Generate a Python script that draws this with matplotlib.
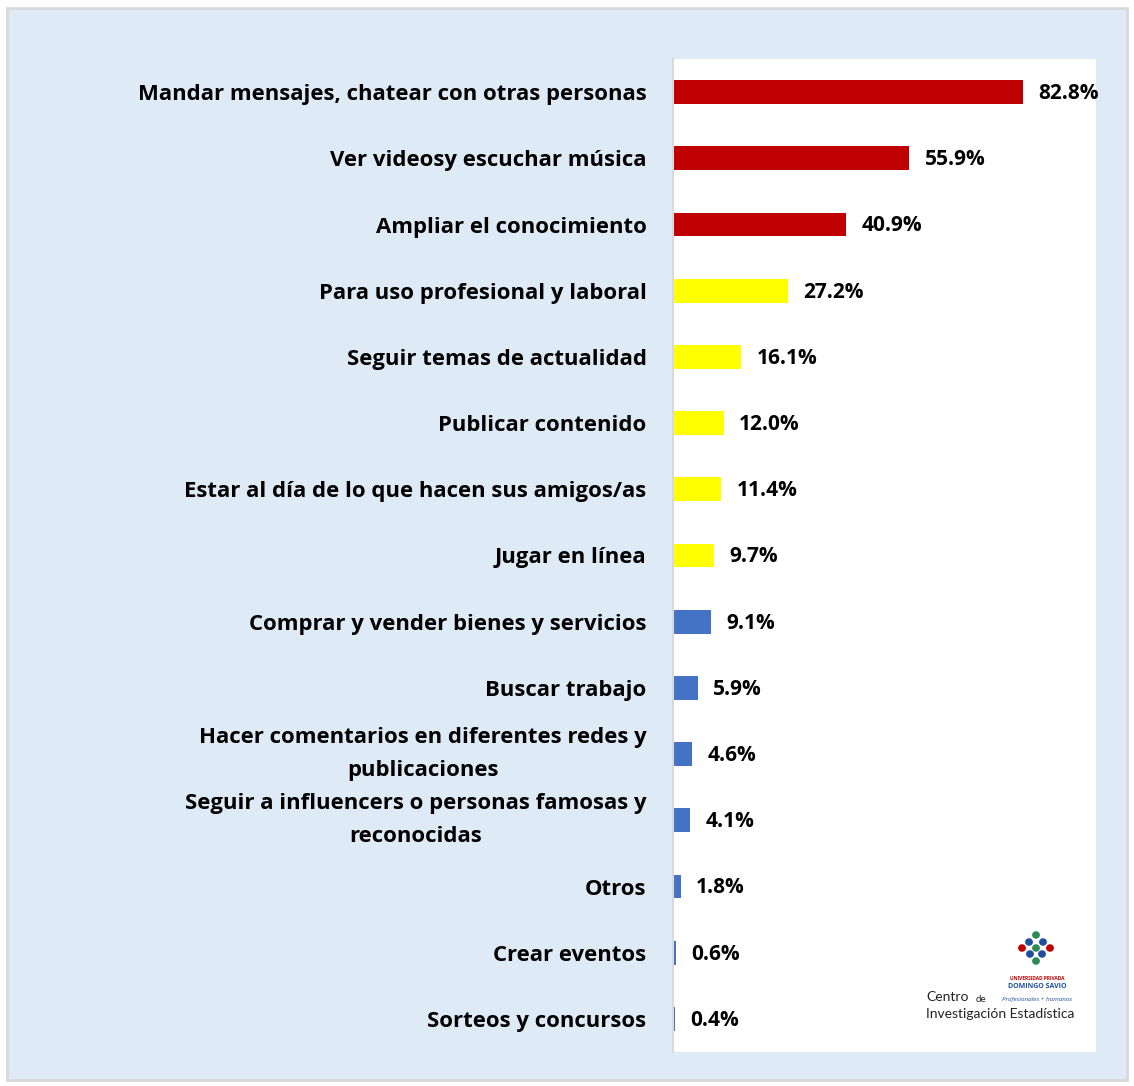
import matplotlib
matplotlib.use("Agg")
import matplotlib.pyplot as plt
from matplotlib.patches import Rectangle

categories = [
    "Mandar mensajes, chatear con otras personas",
    "Ver videosy escuchar música",
    "Ampliar el conocimiento",
    "Para uso profesional y laboral",
    "Seguir temas de actualidad",
    "Publicar contenido",
    "Estar al día de lo que hacen sus amigos/as",
    "Jugar en línea",
    "Comprar y vender bienes y servicios",
    "Buscar trabajo",
    "Hacer comentarios en diferentes redes y\npublicaciones",
    "Seguir a influencers o personas famosas y\nreconocidas",
    "Otros",
    "Crear eventos",
    "Sorteos y concursos",
]
values = [82.8, 55.9, 40.9, 27.2, 16.1, 12.0, 11.4, 9.7, 9.1, 5.9, 4.6, 4.1, 1.8, 0.6, 0.4]
groups = ["red"] * 3 + ["yellow"] * 5 + ["blue"] * 7
group_colors = {"red": "#C00000", "yellow": "#FFFF00", "blue": "#4472C4"}

plt.rcParams['font.family'] = ['Open Sans', 'DejaVu Sans']

W, H = 1134, 1086
fig = plt.figure(figsize=(W / 100, H / 100), dpi=100)
fig.patch.set_facecolor("white")
fig.add_artist(Rectangle((7 / W, 1 - 1080 / H), (1127 - 7) / W, (1080 - 8) / H,
                         transform=fig.transFigure, facecolor="#DEEAF6",
                         edgecolor="#D9D9D9", linewidth=2, zorder=0))

left, right, top, bottom = 673, 1096, 59, 1052
ax = fig.add_axes([left / W, 1 - bottom / H, (right - left) / W, (bottom - top) / H])
ax.set_facecolor("white")

y = list(range(len(categories)))
colors = [group_colors[g] for g in groups]
ax.barh(y, values, height=0.36, color=colors, zorder=2)
ax.set_xlim(0, 100)
ax.set_ylim(len(categories) - 0.5, -0.5)
ax.set_yticks(y)
ax.set_yticklabels(categories, fontsize=15.9, fontweight="bold", color="#000000",
                   linespacing=1.75)
for t in ax.get_yticklabels():
    t.set_multialignment("center")
    if "\n" in t.get_text():
        t.set_verticalalignment("center")
ax.tick_params(axis="y", length=0, pad=19)
ax.set_xticks([])
for s in ["top", "right", "bottom"]:
    ax.spines[s].set_visible(False)
ax.spines["left"].set_color("#D9D9D9")
ax.spines["left"].set_linewidth(1.5)

for yi, v in zip(y, values):
    ax.annotate(f"{v:.1f}%", (v, yi), xytext=(11, -1), textcoords="offset points",
                va="center", ha="left", fontsize=15, fontweight="bold",
                color="#000000", annotation_clip=False)

# logo (approximation)
logo_font = ['Lato', 'DejaVu Sans']
fig.text(926 / W, 1 - 997 / H, "Centro", fontsize=10, color="#222222", va="center",
         ha="left", family=logo_font)
fig.text(976 / W, 1 - 999 / H, "de", fontsize=7, color="#222222", va="center",
         ha="left", family=logo_font)
fig.text(926 / W, 1 - 1014 / H, "Investigación Estadística", fontsize=10, color="#222222",
         va="center", ha="left", family=logo_font)
fig.text(1037 / W, 1 - 979 / H, "UNIVERSIDAD PRIVADA", fontsize=3.5, color="#C00000",
         fontweight="bold", va="center", ha="center")
fig.text(1037 / W, 1 - 986 / H, "DOMINGO SAVIO", fontsize=5, color="#1F4E9C",
         fontweight="bold", va="center", ha="center")
fig.text(1037 / W, 1 - 999 / H, "Profesionales + humanos", fontsize=4.5, color="#1F4E9C",
         style="italic", va="center", ha="center")
dots_x = [1036, 1029, 1043, 1036, 1030, 1042, 1036, 1022, 1050]
dots_y = [935, 942, 942, 948, 954, 954, 961, 948, 948]
dots_c = ["#2E8B57", "#1F4E9C", "#1F4E9C", "#2E8B57", "#1F4E9C", "#1F4E9C", "#2E8B57",
          "#C00000", "#C00000"]
for dx, dy, dc in zip(dots_x, dots_y, dots_c):
    fig.add_artist(plt.Circle((dx / W, 1 - dy / H), 3.2 / W, transform=fig.transFigure,
                              color=dc, zorder=5))

fig.savefig("out.png", dpi=100, facecolor=fig.get_facecolor())
